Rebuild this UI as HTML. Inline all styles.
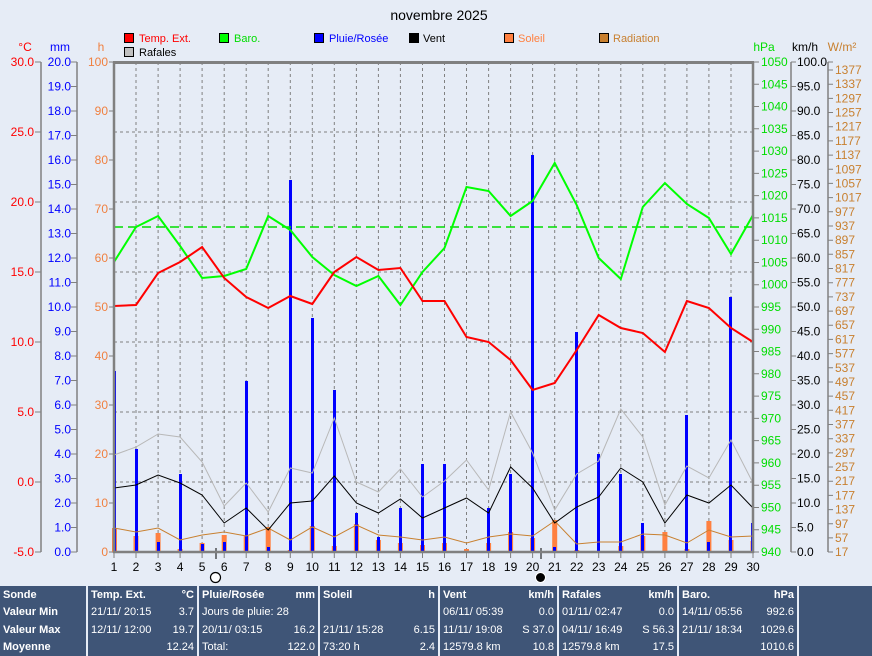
<!DOCTYPE html>
<html><head><meta charset="utf-8"><style>
body{margin:0;background:#e6ecf6;width:872px;height:656px;overflow:hidden;font-family:"Liberation Sans",sans-serif}
svg{position:absolute;left:0;top:0}
svg text{font-family:"Liberation Sans",sans-serif;font-size:12px}
table{position:absolute;left:0;top:586px;width:872px;height:70px;border-collapse:collapse;background:#3f5577;color:#fff;font-family:"Liberation Sans",sans-serif;font-size:11px}
td{padding:0 3px;vertical-align:middle;height:17px;white-space:nowrap;border-left:2px solid #e6ecf6}
td:first-child{border-left:none}
.b{font-weight:bold}
.r{text-align:right}
</style></head><body>
<svg width="872" height="586" viewBox="0 0 872 586">
<text x="439" y="20" text-anchor="middle" font-size="14" style="font-size:14px">novembre 2025</text>
<!-- legend -->
<g font-size="11">
<rect x="124.5" y="33.5" width="9" height="9" fill="#f00" stroke="#000"/><text x="139" y="42" fill="#f00" style="font-size:11px">Temp. Ext.</text>
<rect x="219.5" y="33.5" width="9" height="9" fill="#0f0" stroke="#000"/><text x="234" y="42" fill="#0d0" style="font-size:11px">Baro.</text>
<rect x="314.5" y="33.5" width="9" height="9" fill="#00f" stroke="#000"/><text x="329" y="42" fill="#00f" style="font-size:11px">Pluie/Rosée</text>
<rect x="409.5" y="33.5" width="9" height="9" fill="#000" stroke="#000"/><text x="423" y="42" fill="#000" style="font-size:11px">Vent</text>
<rect x="504.5" y="33.5" width="9" height="9" fill="#ff8040" stroke="#000"/><text x="518" y="42" fill="#ff8040" style="font-size:11px">Soleil</text>
<rect x="599.5" y="33.5" width="9" height="9" fill="#c88030" stroke="#000"/><text x="613" y="42" fill="#c88030" style="font-size:11px">Radiation</text>
<rect x="124.5" y="47.5" width="9" height="9" fill="#c0c0c0" stroke="#000"/><text x="139" y="56" fill="#000" style="font-size:11px">Rafales</text>
</g>
<!-- unit headers -->
<text x="25" y="51" fill="#f00" text-anchor="middle">°C</text>
<text x="60" y="51" fill="#00f" text-anchor="middle">mm</text>
<text x="101" y="51" fill="#f08040" text-anchor="middle">h</text>
<text x="764" y="51" fill="#0d0" text-anchor="middle">hPa</text>
<text x="805" y="51" fill="#000" text-anchor="middle">km/h</text>
<text x="842" y="51" fill="#c88030" text-anchor="middle">W/m²</text>
<!-- axis lines -->
<g stroke="#808080" stroke-width="1.5">
<line x1="41" y1="62" x2="41" y2="552"/>
<line x1="77" y1="62" x2="77" y2="552"/>
<line x1="791" y1="62" x2="791" y2="552"/>
<line x1="828" y1="62" x2="828" y2="552"/>
</g>
<!-- °C ticks -->
<g fill="#f00" text-anchor="end">
<text x="34" y="66">30.0</text><text x="34" y="136">25.0</text><text x="34" y="206">20.0</text><text x="34" y="276">15.0</text><text x="34" y="346">10.0</text><text x="34" y="416">5.0</text><text x="34" y="486">0.0</text><text x="34" y="556">-5.0</text>
</g>
<g stroke="#808080"><path d="M35 62h6M35 132h6M35 202h6M35 272h6M35 342h6M35 412h6M35 482h6M35 552h6"/></g>
<!-- mm ticks -->
<g fill="#00f" text-anchor="end">
<text x="71" y="66">20.0</text><text x="71" y="90.5">19.0</text><text x="71" y="115">18.0</text><text x="71" y="139.5">17.0</text><text x="71" y="164">16.0</text><text x="71" y="188.5">15.0</text><text x="71" y="213">14.0</text><text x="71" y="237.5">13.0</text><text x="71" y="262">12.0</text><text x="71" y="286.5">11.0</text><text x="71" y="311">10.0</text><text x="71" y="335.5">9.0</text><text x="71" y="360">8.0</text><text x="71" y="384.5">7.0</text><text x="71" y="409">6.0</text><text x="71" y="433.5">5.0</text><text x="71" y="458">4.0</text><text x="71" y="482.5">3.0</text><text x="71" y="507">2.0</text><text x="71" y="531.5">1.0</text><text x="71" y="556">0.0</text>
</g>
<g stroke="#808080"><path d="M71 62h6M71 86.5h6M71 111h6M71 135.5h6M71 160h6M71 184.5h6M71 209h6M71 233.5h6M71 258h6M71 282.5h6M71 307h6M71 331.5h6M71 356h6M71 380.5h6M71 405h6M71 429.5h6M71 454h6M71 478.5h6M71 503h6M71 527.5h6M71 552h6"/></g>
<!-- h ticks -->
<g fill="#f08040" text-anchor="end">
<text x="108" y="66">100</text><text x="108" y="115">90</text><text x="108" y="164">80</text><text x="108" y="213">70</text><text x="108" y="262">60</text><text x="108" y="311">50</text><text x="108" y="360">40</text><text x="108" y="409">30</text><text x="108" y="458">20</text><text x="108" y="507">10</text><text x="108" y="556">0</text>
</g>
<g stroke="#808080"><path d="M109 62h5M109 111h5M109 160h5M109 209h5M109 258h5M109 307h5M109 356h5M109 405h5M109 454h5M109 503h5M109 552h5"/></g>
<!-- hPa ticks -->
<g fill="#0d0">
<text x="761" y="66">1050</text><text x="761" y="88.3">1045</text><text x="761" y="110.5">1040</text><text x="761" y="132.8">1035</text><text x="761" y="155.1">1030</text><text x="761" y="177.4">1025</text><text x="761" y="199.6">1020</text><text x="761" y="221.9">1015</text><text x="761" y="244.2">1010</text><text x="761" y="266.5">1005</text><text x="761" y="288.7">1000</text><text x="761" y="311">995</text><text x="761" y="333.3">990</text><text x="761" y="355.5">985</text><text x="761" y="377.8">980</text><text x="761" y="400.1">975</text><text x="761" y="422.4">970</text><text x="761" y="444.6">965</text><text x="761" y="466.9">960</text><text x="761" y="489.2">955</text><text x="761" y="511.5">950</text><text x="761" y="533.7">945</text><text x="761" y="556">940</text>
</g>
<g stroke="#808080"><path d="M753 62h6M753 84.3h6M753 106.5h6M753 128.8h6M753 151.1h6M753 173.4h6M753 195.6h6M753 217.9h6M753 240.2h6M753 262.5h6M753 284.7h6M753 307h6M753 329.3h6M753 351.5h6M753 373.8h6M753 396.1h6M753 418.4h6M753 440.6h6M753 462.9h6M753 485.2h6M753 507.5h6M753 529.7h6M753 552h6"/></g>
<!-- km/h ticks -->
<g fill="#000">
<text x="797" y="66">100.0</text><text x="797" y="90.5">95.0</text><text x="797" y="115">90.0</text><text x="797" y="139.5">85.0</text><text x="797" y="164">80.0</text><text x="797" y="188.5">75.0</text><text x="797" y="213">70.0</text><text x="797" y="237.5">65.0</text><text x="797" y="262">60.0</text><text x="797" y="286.5">55.0</text><text x="797" y="311">50.0</text><text x="797" y="335.5">45.0</text><text x="797" y="360">40.0</text><text x="797" y="384.5">35.0</text><text x="797" y="409">30.0</text><text x="797" y="433.5">25.0</text><text x="797" y="458">20.0</text><text x="797" y="482.5">15.0</text><text x="797" y="507">10.0</text><text x="797" y="531.5">5.0</text><text x="797" y="556">0.0</text>
</g>
<g stroke="#808080"><path d="M791 62h5M791 86.5h5M791 111h5M791 135.5h5M791 160h5M791 184.5h5M791 209h5M791 233.5h5M791 258h5M791 282.5h5M791 307h5M791 331.5h5M791 356h5M791 380.5h5M791 405h5M791 429.5h5M791 454h5M791 478.5h5M791 503h5M791 527.5h5M791 552h5"/></g>
<!-- W/m2 ticks -->
<g fill="#c88030">
<text x="835" y="74">1377</text><text x="835" y="88.2">1337</text><text x="835" y="102.4">1297</text><text x="835" y="116.5">1257</text><text x="835" y="130.7">1217</text><text x="835" y="144.9">1177</text><text x="835" y="159.1">1137</text><text x="835" y="173.3">1097</text><text x="835" y="187.4">1057</text><text x="835" y="201.6">1017</text><text x="835" y="215.8">977</text><text x="835" y="230">937</text><text x="835" y="244.2">897</text><text x="835" y="258.3">857</text><text x="835" y="272.5">817</text><text x="835" y="286.7">777</text><text x="835" y="300.9">737</text><text x="835" y="315.1">697</text><text x="835" y="329.2">657</text><text x="835" y="343.4">617</text><text x="835" y="357.6">577</text><text x="835" y="371.8">537</text><text x="835" y="386">497</text><text x="835" y="400.1">457</text><text x="835" y="414.3">417</text><text x="835" y="428.5">377</text><text x="835" y="442.7">337</text><text x="835" y="456.9">297</text><text x="835" y="471">257</text><text x="835" y="485.2">217</text><text x="835" y="499.4">177</text><text x="835" y="513.6">137</text><text x="835" y="527.8">97</text><text x="835" y="541.9">57</text><text x="835" y="556">17</text>
</g>
<g stroke="#808080"><path d="M828 62h5M828 70h5M828 84.2h5M828 98.4h5M828 112.5h5M828 126.7h5M828 140.9h5M828 155.1h5M828 169.3h5M828 183.4h5M828 197.6h5M828 211.8h5M828 226h5M828 240.2h5M828 254.3h5M828 268.5h5M828 282.7h5M828 296.9h5M828 311.1h5M828 325.2h5M828 339.4h5M828 353.6h5M828 367.8h5M828 382h5M828 396.1h5M828 410.3h5M828 424.5h5M828 438.7h5M828 452.9h5M828 467h5M828 481.2h5M828 495.4h5M828 509.6h5M828 523.8h5M828 537.9h5M828 552h5"/></g>
<!-- grid -->
<g stroke="#808080" stroke-dasharray="3,3">
<path d="M114 132H753M114 202H753M114 272H753M114 342H753M114 412H753M114 482H753"/>
<path d="M136 62V552M158.1 62V552M180.1 62V552M202.1 62V552M224.2 62V552M246.2 62V552M268.2 62V552M290.3 62V552M312.3 62V552M334.3 62V552M356.4 62V552M378.4 62V552M400.4 62V552M422.5 62V552M444.5 62V552M466.5 62V552M488.6 62V552M510.6 62V552M532.6 62V552M554.7 62V552M576.7 62V552M598.7 62V552M620.8 62V552M642.8 62V552M664.9 62V552M686.9 62V552M708.9 62V552M731 62V552"/>
</g>
<!-- x ticks & labels -->
<g stroke="#808080"><path d="M114 552v6M136 552v6M158.1 552v6M180.1 552v6M202.1 552v6M224.2 552v6M246.2 552v6M268.2 552v6M290.3 552v6M312.3 552v6M334.3 552v6M356.4 552v6M378.4 552v6M400.4 552v6M422.5 552v6M444.5 552v6M466.5 552v6M488.6 552v6M510.6 552v6M532.6 552v6M554.7 552v6M576.7 552v6M598.7 552v6M620.8 552v6M642.8 552v6M664.9 552v6M686.9 552v6M708.9 552v6M731 552v6M753 552v6"/></g>
<g fill="#000" text-anchor="middle">
<text x="114" y="571">1</text><text x="136" y="571">2</text><text x="158.1" y="571">3</text><text x="180.1" y="571">4</text><text x="202.1" y="571">5</text><text x="224.2" y="571">6</text><text x="246.2" y="571">7</text><text x="268.2" y="571">8</text><text x="290.3" y="571">9</text><text x="312.3" y="571">10</text><text x="334.3" y="571">11</text><text x="356.4" y="571">12</text><text x="378.4" y="571">13</text><text x="400.4" y="571">14</text><text x="422.5" y="571">15</text><text x="444.5" y="571">16</text><text x="466.5" y="571">17</text><text x="488.6" y="571">18</text><text x="510.6" y="571">19</text><text x="532.6" y="571">20</text><text x="554.7" y="571">21</text><text x="576.7" y="571">22</text><text x="598.7" y="571">23</text><text x="620.8" y="571">24</text><text x="642.8" y="571">25</text><text x="664.9" y="571">26</text><text x="686.9" y="571">27</text><text x="708.9" y="571">28</text><text x="731" y="571">29</text><text x="753" y="571">30</text>
</g>
<!-- moon -->
<line x1="216" y1="548" x2="216" y2="559" stroke="#000"/>
<circle cx="215.5" cy="577.5" r="5" fill="#fff" stroke="#000" stroke-width="1.2"/>
<line x1="541" y1="548" x2="541" y2="559" stroke="#000"/>
<circle cx="540.5" cy="577.5" r="5" fill="#000" stroke="#fff" stroke-width="1"/>
<!-- sun bars -->
<g fill="#ff8040">
<rect x="112" y="528" width="5" height="24"/><rect x="133.5" y="536" width="5" height="16"/><rect x="155.6" y="533" width="5" height="19"/><rect x="177.6" y="549" width="5" height="3"/><rect x="199.6" y="543" width="5" height="9"/><rect x="221.7" y="535" width="5" height="17"/><rect x="243.7" y="536" width="5" height="16"/><rect x="265.7" y="527" width="5" height="25"/><rect x="287.8" y="550" width="5" height="2"/><rect x="309.8" y="526" width="5" height="26"/><rect x="331.8" y="546" width="5" height="6"/><rect x="353.9" y="524" width="5" height="28"/><rect x="375.9" y="540" width="5" height="12"/><rect x="397.9" y="543" width="5" height="9"/><rect x="420" y="545" width="5" height="7"/><rect x="442" y="543" width="5" height="9"/><rect x="464" y="549" width="5" height="3"/><rect x="486.1" y="543" width="5" height="9"/><rect x="508.1" y="532" width="5" height="20"/><rect x="530.1" y="538" width="5" height="14"/><rect x="552.2" y="520" width="5" height="32"/><rect x="574.2" y="550" width="5" height="2"/><rect x="596.2" y="551" width="5" height="1"/><rect x="618.3" y="546" width="5" height="6"/><rect x="640.3" y="536" width="5" height="16"/><rect x="662.4" y="532" width="5" height="20"/><rect x="684.4" y="549" width="5" height="3"/><rect x="706.4" y="521" width="5" height="31"/><rect x="728.5" y="540" width="5" height="12"/><rect x="750.5" y="541" width="3" height="11"/>
</g>
<!-- rain bars -->
<g fill="#00f">
<rect x="113" y="371" width="3" height="181"/><rect x="135" y="449" width="3" height="103"/><rect x="157" y="542" width="3" height="10"/><rect x="179" y="474" width="3" height="78"/><rect x="201" y="544" width="3" height="8"/><rect x="223" y="542" width="3" height="10"/><rect x="245" y="381" width="3" height="171"/><rect x="267" y="547" width="3" height="5"/><rect x="289" y="180" width="3" height="372"/><rect x="311" y="318" width="3" height="234"/><rect x="333" y="390" width="3" height="162"/><rect x="355" y="513" width="3" height="39"/><rect x="377" y="537" width="3" height="15"/><rect x="399" y="508" width="3" height="44"/><rect x="421" y="464" width="3" height="88"/><rect x="443" y="464" width="3" height="88"/><rect x="487" y="508" width="3" height="44"/><rect x="509" y="474" width="3" height="78"/><rect x="531" y="155" width="3" height="397"/><rect x="553" y="547" width="3" height="5"/><rect x="575" y="332" width="3" height="220"/><rect x="597" y="454" width="3" height="98"/><rect x="619" y="474" width="3" height="78"/><rect x="641" y="523" width="3" height="29"/><rect x="685" y="415" width="3" height="137"/><rect x="707" y="542" width="3" height="10"/><rect x="729" y="297" width="3" height="255"/><rect x="751" y="523" width="2" height="29"/>
</g>
<!-- radiation line -->
<polyline fill="none" stroke="#c88030" stroke-width="1" points="114,528 136,532 158.1,528 180.1,540 202.1,535 224.2,532 246.2,536 268.2,528 290.3,540 312.3,527 334.3,537 356.4,525 378.4,535 400.4,537 422.5,540 444.5,537 466.5,543 488.6,537 510.6,534 532.6,536 554.7,521 576.7,544 598.7,542 620.8,542 642.8,534 664.9,535 686.9,543 708.9,530 731,537 753,536"/>
<!-- gust line -->
<polyline fill="none" stroke="#b8b8b8" stroke-width="1" points="114,455 136,447 158.1,434 180.1,437 202.1,462 224.2,506 246.2,483 268.2,512 290.3,468 312.3,473 334.3,418 356.4,482 378.4,492 400.4,469 422.5,497 444.5,481 466.5,460 488.6,490 510.6,412 532.6,453 554.7,510 576.7,474 598.7,461 620.8,409 642.8,437 664.9,505 686.9,466 708.9,478 731,440 753,483"/>
<!-- wind line -->
<polyline fill="none" stroke="#000" stroke-width="1" points="114,488 136,485 158.1,475 180.1,483 202.1,495 224.2,523 246.2,508 268.2,530 290.3,503 312.3,501 334.3,476 356.4,503 378.4,513 400.4,499 422.5,518 444.5,508 466.5,498 488.6,513 510.6,467 532.6,488 554.7,523 576.7,507 598.7,497 620.8,468 642.8,482 664.9,523 686.9,495 708.9,503 731,485 753,508"/>
<!-- baro avg -->
<line x1="114" y1="227" x2="753" y2="227" stroke="#0d0" stroke-width="1.5" stroke-dasharray="9,5"/>
<!-- baro line -->
<polyline fill="none" stroke="#0f0" stroke-width="2" points="114,262 136,227 158.1,216 180.1,246 202.1,278 224.2,276 246.2,269 268.2,216 290.3,230 312.3,257 334.3,275 356.4,286 378.4,276 400.4,305 422.5,272 444.5,248 466.5,187 488.6,191 510.6,216 532.6,201 554.7,163 576.7,205 598.7,258 620.8,279 642.8,207 664.9,183 686.9,204 708.9,218 731,254 753,215"/>
<!-- temp line -->
<polyline fill="none" stroke="#f00" stroke-width="2" points="114,306 136,305 158.1,273 180.1,262 202.1,247 224.2,278 246.2,297 268.2,308 290.3,296 312.3,304 334.3,272 356.4,257 378.4,270 400.4,268 422.5,301 444.5,301 466.5,337 488.6,342 510.6,360 532.6,390 554.7,383 576.7,350 598.7,315 620.8,328 642.8,333 664.9,352 686.9,301 708.9,308 731,328 753,342"/>
<!-- frame -->
<g stroke="#808080" fill="none">
<line x1="113" y1="62.5" x2="754" y2="62.5" stroke-width="3"/>
<line x1="114" y1="62" x2="114" y2="553" stroke-width="2.5"/>
<line x1="753" y1="62" x2="753" y2="553" stroke-width="2.5"/>
<line x1="113" y1="552" x2="754" y2="552" stroke-width="2.5"/>
</g>
</svg>
<table>
<tr><td class="b" style="width:80px">Sonde</td><td class="b" style="width:103px">Temp. Ext.<span style="float:right">°C</span></td><td class="b" style="width:113px">Pluie/Rosée<span style="float:right">mm</span></td><td class="b" style="width:112px">Soleil<span style="float:right">h</span></td><td class="b" style="width:111px">Vent<span style="float:right">km/h</span></td><td class="b" style="width:112px">Rafales<span style="float:right">km/h</span></td><td class="b" style="width:112px">Baro.<span style="float:right">hPa</span></td><td></td></tr>
<tr><td class="b">Valeur Min</td><td>21/11/ 20:15<span style="float:right">3.7</span></td><td>Jours de pluie: 28</td><td></td><td>06/11/ 05:39<span style="float:right">0.0</span></td><td>01/11/ 02:47<span style="float:right">0.0</span></td><td>14/11/ 05:56<span style="float:right">992.6</span></td><td></td></tr>
<tr><td class="b">Valeur Max</td><td>12/11/ 12:00<span style="float:right">19.7</span></td><td>20/11/ 03:15<span style="float:right">16.2</span></td><td>21/11/ 15:28<span style="float:right">6.15</span></td><td>11/11/ 19:08<span style="float:right">S 37.0</span></td><td>04/11/ 16:49<span style="float:right">S 56.3</span></td><td>21/11/ 18:34<span style="float:right">1029.6</span></td><td></td></tr>
<tr><td class="b">Moyenne</td><td><span style="float:right">12.24</span></td><td>Total:<span style="float:right">122.0</span></td><td>73:20 h<span style="float:right">2.4</span></td><td>12579.8 km<span style="float:right">10.8</span></td><td>12579.8 km<span style="float:right">17.5</span></td><td><span style="float:right">1010.6</span></td><td></td></tr>
</table>
</body></html>
